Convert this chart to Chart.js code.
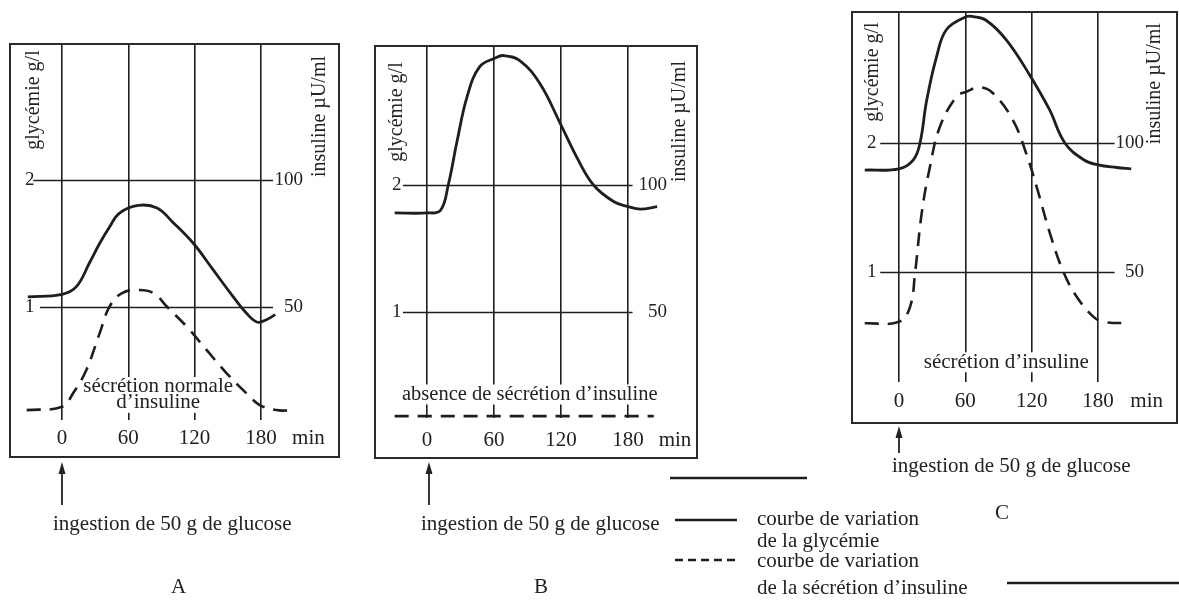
<!DOCTYPE html>
<html><head><meta charset="utf-8">
<script src="https://cdn.jsdelivr.net/npm/chart.js@4.4.1/dist/chart.umd.min.js"></script>
<style>
html,body{margin:0;padding:0;background:#fff;width:1179px;height:607px;overflow:hidden;position:relative;font-family:"Liberation Serif","DejaVu Serif",serif;color:#222;}
.box{position:absolute;border:2px solid #2a2a2a;box-sizing:border-box;background:#fff;}
.box canvas{display:block;}
.t{position:absolute;font-size:21px;white-space:nowrap;line-height:22px;}
svg{position:absolute;left:0;top:0;}
</style></head><body>

<div class="box" id="boxA" style="left:9px;top:43px;width:331px;height:415px;"><canvas id="cA" width="327" height="411"></canvas></div>
<div class="box" id="boxB" style="left:374px;top:45px;width:324px;height:414px;"><canvas id="cB" width="320" height="410"></canvas></div>
<div class="box" id="boxC" style="left:851px;top:11px;width:327px;height:413px;"><canvas id="cC" width="323" height="409"></canvas></div>

<svg width="1179" height="607">
  <g stroke="#222" stroke-width="1.8" fill="#222">
    <line x1="62" y1="470" x2="62" y2="505"/><polygon points="62,462 58.5,474 65.5,474" stroke="none"/>
    <line x1="429" y1="470" x2="429" y2="505"/><polygon points="429,462 425.5,474 432.5,474" stroke="none"/>
    <line x1="899" y1="434" x2="899" y2="453"/><polygon points="899,426 895.5,438 902.5,438" stroke="none"/>
  </g>
  <g stroke="#1e1e1e" stroke-width="2.6" fill="none">
    <line x1="670" y1="478" x2="807" y2="478"/>
    <line x1="675" y1="520" x2="737" y2="520"/>
    <line x1="675" y1="560" x2="737" y2="560" stroke-dasharray="8 5"/>
    <line x1="1007" y1="583" x2="1179" y2="583"/>
  </g>
</svg>

<div class="t" style="left:53px;top:512px;">ingestion de 50 g de glucose</div>
<div class="t" style="left:421px;top:512px;">ingestion de 50 g de glucose</div>
<div class="t" style="left:892px;top:454px;">ingestion de 50 g de glucose</div>
<div class="t" style="left:171px;top:575px;">A</div>
<div class="t" style="left:534px;top:575px;">B</div>
<div class="t" style="left:995px;top:501px;">C</div>
<div class="t" style="left:757px;top:507px;">courbe de variation</div>
<div class="t" style="left:757px;top:529px;">de la glycémie</div>
<div class="t" style="left:757px;top:549px;">courbe de variation</div>
<div class="t" style="left:757px;top:576px;">de la sécrétion d’insuline</div>

<script>
// ---- data ----
const xTicks = [0, 60, 120, 180];
const glyTicks = [1, 2];
const insTicks = [50, 100];

// Panel A : sécrétion normale
const timeA_gly = [-31, 0, 13, 25, 34, 43, 52, 69, 86, 100, 119, 137, 155, 167, 177, 185, 193];
const glyA      = [1.08, 1.10, 1.16, 1.35, 1.50, 1.63, 1.74, 1.80, 1.78, 1.67, 1.50, 1.29, 1.08, 0.95, 0.88, 0.90, 0.94];
const timeA_ins = [-32, 0, 10, 22, 34, 43, 54, 70, 83, 95, 113, 131, 149, 167, 179, 194, 204];
const insA      = [9.4, 10.7, 16, 25.2, 39.6, 50.1, 55.4, 56.7, 55.4, 50.1, 42.2, 33, 23.9, 16, 11.4, 9.4, 9.2];

// Panel B : absence de sécrétion
const timeB_gly = [-29, 0, 12, 19, 27, 36, 47, 61, 68, 83, 101, 119, 134, 149, 167, 180, 191, 206];
const glyB      = [1.78, 1.78, 1.80, 2.00, 2.35, 2.70, 2.93, 3.00, 3.02, 2.98, 2.80, 2.49, 2.22, 2.00, 1.87, 1.83, 1.81, 1.83];
const timeB_ins = [-29, 0, 60, 120, 180, 203];
const insB      = [9, 9, 9, 9, 9, 9];

// Panel C
const timeC_gly = [-31, 0, 13, 19, 25, 34, 43, 61, 67, 79, 97, 118, 136, 150, 167, 180, 197, 210];
const glyC      = [1.79, 1.80, 1.87, 2.00, 2.33, 2.67, 2.88, 2.98, 2.98, 2.95, 2.80, 2.53, 2.26, 2.00, 1.87, 1.83, 1.81, 1.80];
const timeC_ins = [-31, 0, 10, 14.5, 20.5, 28, 37, 52, 61, 73, 85, 103, 115, 124.5, 136.5, 148.6, 160.7, 175.7, 184.7, 209];
const insC      = [30.1, 30.7, 36.5, 49.5, 72.7, 90.8, 106.3, 118, 119.9, 121.6, 119.3, 108.9, 96, 83, 65, 50.1, 40.4, 32.7, 30.7, 30.1];

const INK = '#1e1e1e';
const FONT = '"Liberation Serif", "DejaVu Serif", serif';

const decorById = {
  cA: {
    rPad: 35,
    hLines: [{v: 1, from: -20, to: 191}, {v: 2, from: -26, to: 191}],
    texts: [
      {text: 'glycémie g/l', x: -26, y: 2.63, rot: -90},
      {text: 'insuline µU/ml', x: 233, y: 2.50, rot: -90},
      {text: 'sécrétion normale', x: 87, y: 0.37, bg: true, size: 21},
      {text: 'd’insuline', x: 87, y: 0.245, bg: true, size: 21}
    ]
  },
  cB: {
    rPad: 29,
    hLines: [{v: 1, from: -21.5, to: 184}, {v: 2, from: -21.5, to: 184}],
    texts: [
      {text: 'glycémie g/l', x: -27, y: 2.575, rot: -90},
      {text: 'insuline µU/ml', x: 226.5, y: 2.50, rot: -90},
      {text: 'absence de sécrétion d’insuline', x: 92, y: 0.35, bg: true, size: 20.5}
    ]
  },
  cC: {
    rPad: 32,
    hLines: [{v: 1, from: -17, to: 195}, {v: 2, from: -17, to: 195}],
    texts: [
      {text: 'glycémie g/l', x: -23.5, y: 2.55, rot: -90},
      {text: 'insuline µU/ml', x: 231.5, y: 2.46, rot: -90},
      {text: 'sécrétion d’insuline', x: 97, y: 0.30, bg: true, size: 21}
    ]
  }
};

const decor = {
  id: 'decor',
  beforeDatasetsDraw(chart) {
    const d = decorById[chart.canvas.id];
    if (!d) return;
    const {ctx, chartArea} = chart;
    const x = chart.scales.x, y = chart.scales.y, y2 = chart.scales.y2;
    ctx.save();
    ctx.strokeStyle = INK; ctx.lineWidth = 1.6;
    d.hLines.forEach(l => {
      const py = Math.round(y.getPixelForValue(l.v)) + 0.5;
      ctx.beginPath();
      ctx.moveTo(x.getPixelForValue(l.from), py);
      ctx.lineTo(x.getPixelForValue(l.to), py);
      ctx.stroke();
    });
    // right-hand insulin tick labels, placed with the y2 scale
    ctx.fillStyle = '#222';
    ctx.font = '19px ' + FONT;
    ctx.textAlign = 'right'; ctx.textBaseline = 'middle';
    y2.ticks.forEach(t => {
      ctx.fillText(String(t.value), chartArea.right - d.rPad, y2.getPixelForValue(t.value));
    });
    ctx.textAlign = 'center';
    d.texts.forEach(t => {
      ctx.font = (t.size || 20) + 'px ' + FONT;
      const px = x.getPixelForValue(t.x), py = y.getPixelForValue(t.y);
      ctx.save();
      ctx.translate(px, py);
      if (t.rot) ctx.rotate(t.rot * Math.PI / 180);
      if (t.bg) {
        const w = ctx.measureText(t.text).width;
        ctx.fillStyle = '#fff';
        ctx.fillRect(-w / 2 - 2, -10, w + 4, 20);
      }
      ctx.fillStyle = '#222';
      ctx.fillText(t.text, 0, 0);
      ctx.restore();
    });
    ctx.restore();
  }
};

function pts(xs, ys) { return xs.map((v, i) => ({x: v, y: ys[i]})); }
function noPad(s) { s.paddingTop = 0; s.paddingBottom = 0; s.paddingLeft = 0; s.paddingRight = 0; }

function panel(id, o) {
  return new Chart(document.getElementById(id), {
    type: 'line',
    data: {
      datasets: [
        {label: 'courbe de variation de la glycémie', data: pts(o.tg, o.g), yAxisID: 'y',
         borderColor: INK, borderWidth: 2.8, pointRadius: 0, tension: 0.4, fill: false},
        {label: 'courbe de variation de la sécrétion d’insuline', data: pts(o.ti, o.ins), yAxisID: 'y2',
         borderColor: INK, borderWidth: 2.6, borderDash: [14, 9], pointRadius: 0, tension: 0.4, fill: false}
      ]
    },
    options: {
      responsive: false, animation: false, devicePixelRatio: 1,
      layout: {padding: 0},
      plugins: {legend: {display: false}, tooltip: {enabled: false}},
      scales: {
        x: {
          type: 'linear', min: o.xmin, max: o.xmax,
          afterBuildTicks: s => { s.ticks = xTicks.concat([o.minPos]).map(v => ({value: v})); },
          afterFit: s => { s.height = o.axisH; noPad(s); },
          ticks: {autoSkip: false, maxRotation: 0, padding: o.tickPad, color: '#222',
                  font: {family: FONT, size: 21},
                  callback: v => v === o.minPos ? 'min' : String(v)},
          grid: {drawTicks: false, lineWidth: 1.6,
                 color: c => (c.tick && xTicks.includes(c.tick.value)) ? INK : 'rgba(0,0,0,0)'},
          border: {display: false}
        },
        y: {
          position: 'left', min: o.gmin, max: o.gmax,
          afterBuildTicks: s => { s.ticks = glyTicks.map(v => ({value: v})); },
          afterFit: s => { s.width = 0; noPad(s); },
          ticks: {mirror: true, padding: o.lPad, color: '#222', font: {family: FONT, size: 19}},
          grid: {display: false, drawTicks: false}, border: {display: false}
        },
        y2: {
          position: 'right', min: o.gmin * 50, max: o.gmax * 50,
          afterBuildTicks: s => { s.ticks = insTicks.map(v => ({value: v})); },
          afterFit: s => { s.width = 0; noPad(s); },
          ticks: {display: false},
          grid: {display: false, drawTicks: false}, border: {display: false}
        }
      }
    },
    plugins: [decor]
  });
}

panel('cA', {tg: timeA_gly, g: glyA, ti: timeA_ins, ins: insA,
  xmin: -46.2, xmax: 249.8, gmin: 0.110, gmax: 3.063, axisH: 36, tickPad: 6, minPos: 223, lPad: 14});
panel('cB', {tg: timeB_gly, g: glyB, ti: timeB_ins, ins: insB,
  xmin: -45.7, xmax: 240.8, gmin: 0.165, gmax: 3.087, axisH: 39, tickPad: 10, minPos: 222, lPad: 16});
panel('cC', {tg: timeC_gly, g: glyC, ti: timeC_ins, ins: insC,
  xmin: -41.6, xmax: 250.5, gmin: 0.147, gmax: 3.008, axisH: 40, tickPad: 7, minPos: 224, lPad: 14});
</script>
</body></html>
